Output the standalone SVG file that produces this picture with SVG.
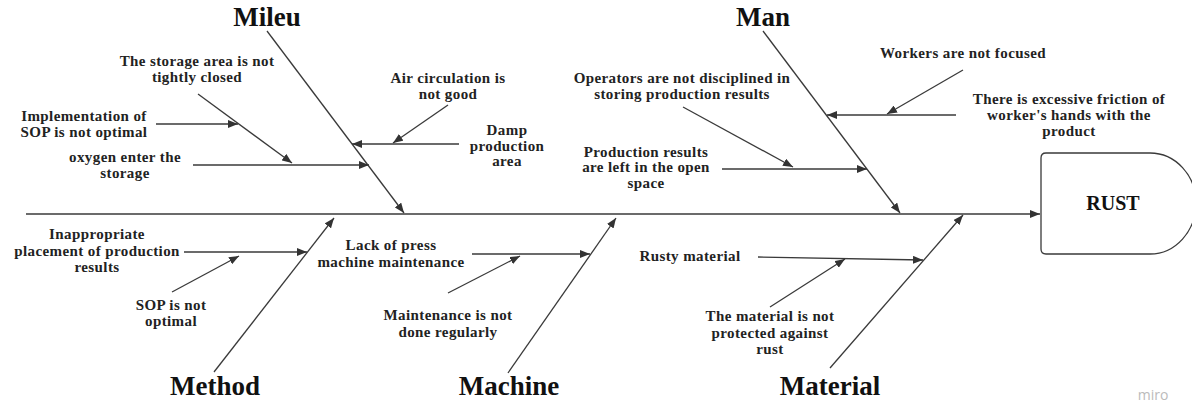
<svg xmlns="http://www.w3.org/2000/svg" width="1192" height="405" viewBox="0 0 1192 405">
<style>
.t{font-family:"Liberation Serif","Times New Roman",serif;font-weight:bold;font-size:15px;letter-spacing:0.4px;fill:#222;text-anchor:middle}
.h{font-family:"Liberation Serif","Times New Roman",serif;font-weight:bold;font-size:27px;fill:#111;text-anchor:middle}
.l{stroke:#3a3a3a;stroke-width:1.3;fill:none}
</style>
<defs>
<marker id="a" viewBox="0 0 10 8" refX="10" refY="4" markerWidth="10" markerHeight="8" markerUnits="userSpaceOnUse" orient="auto">
<path d="M0,0 L10,4 L0,8 Z" fill="#333"/>
</marker>
</defs>
<rect width="1192" height="405" fill="#fff"/>
<g id="connectors" class="l" marker-end="url(#a)">
<line x1="26" y1="214" x2="1040" y2="214"/>
<line x1="267" y1="31" x2="404" y2="213"/>
<line x1="763" y1="31" x2="900" y2="213"/>
<line x1="214" y1="372" x2="334" y2="218"/>
<line x1="508" y1="373" x2="616" y2="218"/>
<line x1="830" y1="368" x2="963" y2="215"/>
<line x1="156" y1="124" x2="238" y2="124"/>
<line x1="198" y1="94" x2="292" y2="163"/>
<line x1="193" y1="165" x2="369" y2="165"/>
<line x1="459" y1="144" x2="352" y2="144"/>
<line x1="448" y1="105" x2="393" y2="143"/>
<line x1="722" y1="169" x2="867" y2="169"/>
<line x1="683" y1="107" x2="793" y2="167"/>
<line x1="956" y1="115" x2="827" y2="115"/>
<line x1="963" y1="70" x2="887" y2="114"/>
<line x1="184" y1="252" x2="307" y2="252"/>
<line x1="172" y1="292" x2="239" y2="256"/>
<line x1="472" y1="254" x2="590" y2="254"/>
<line x1="448" y1="293" x2="520" y2="256"/>
<line x1="758" y1="257" x2="923" y2="260"/>
<line x1="770" y1="307" x2="845" y2="259"/>
</g>
<g id="rust">
<path class="l" d="M1046,153 H1150 A46,50 0 0 1 1196,203 A46,51 0 0 1 1150,254 H1046 Q1041,254 1041,249 V158 Q1041,153 1046,153 Z"/>
<text x="1113" y="210" class="h" style="font-size:20px">RUST</text>
</g>
<g id="mileu"><text x="267" y="26" class="h">Mileu</text></g>
<g id="man"><text x="763" y="26" class="h">Man</text></g>
<g id="method"><text x="215" y="395" class="h">Method</text></g>
<g id="machine"><text x="509" y="395" class="h">Machine</text></g>
<g id="material"><text x="830" y="395" class="h">Material</text></g>
<g id="c1"><text class="t"><tspan x="197" y="66">The storage area is not</tspan><tspan x="197" y="82">tightly closed</tspan></text></g>
<g id="c2"><text class="t"><tspan x="84" y="121">Implementation of</tspan><tspan x="84" y="137">SOP is not optimal</tspan></text></g>
<g id="c3"><text class="t"><tspan x="125" y="162">oxygen enter the</tspan><tspan x="125" y="178">storage</tspan></text></g>
<g id="c4"><text class="t"><tspan x="448" y="83">Air circulation is</tspan><tspan x="448" y="99">not good</tspan></text></g>
<g id="c5"><text class="t"><tspan x="507" y="135">Damp</tspan><tspan x="507" y="151">production</tspan><tspan x="507" y="166">area</tspan></text></g>
<g id="c6"><text class="t"><tspan x="682" y="83">Operators are not disciplined in</tspan><tspan x="682" y="99">storing production results</tspan></text></g>
<g id="c7"><text class="t"><tspan x="646" y="157">Production results</tspan><tspan x="646" y="172">are left in the open</tspan><tspan x="646" y="188">space</tspan></text></g>
<g id="c8"><text class="t" x="963" y="58">Workers are not focused</text></g>
<g id="c9"><text class="t"><tspan x="1069" y="104">There is excessive friction of</tspan><tspan x="1069" y="120">worker's hands with the</tspan><tspan x="1069" y="136">product</tspan></text></g>
<g id="c10"><text class="t"><tspan x="97" y="239">Inappropriate</tspan><tspan x="97" y="256">placement of production</tspan><tspan x="97" y="272">results</tspan></text></g>
<g id="c11"><text class="t"><tspan x="171" y="310">SOP is not</tspan><tspan x="171" y="326">optimal</tspan></text></g>
<g id="c12"><text class="t"><tspan x="391" y="250">Lack of press</tspan><tspan x="391" y="267">machine maintenance</tspan></text></g>
<g id="c13"><text class="t"><tspan x="448" y="320">Maintenance is not</tspan><tspan x="448" y="337">done regularly</tspan></text></g>
<g id="c14"><text class="t" x="690" y="261">Rusty material</text></g>
<g id="c15"><text class="t"><tspan x="770" y="321">The material is not</tspan><tspan x="770" y="338">protected against</tspan><tspan x="770" y="354">rust</tspan></text></g>
<text x="1153" y="400" style="font-family:'Open Sans','DejaVu Sans',sans-serif;font-size:14px;fill:#bbb;text-anchor:middle">miro</text>
</svg>
